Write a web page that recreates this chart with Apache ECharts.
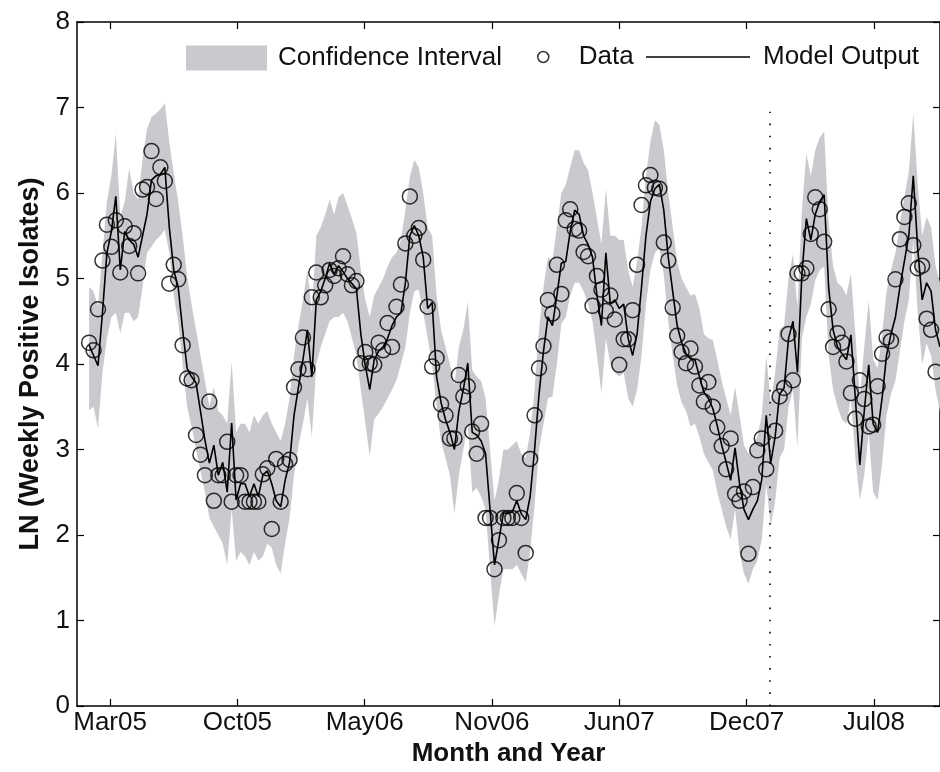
<!DOCTYPE html>
<html>
<head>
<meta charset="utf-8">
<script src="https://cdn.jsdelivr.net/npm/echarts@6.0.0/dist/echarts.min.js"></script>
<style>
  html, body { margin: 0; background: #fff; }
  #chart { width: 940px; height: 772px; }
</style>
</head>
<body>
<div id="chart"></div>
<script>
// Weekly Salmonella isolates: observed data, model output and its confidence band.
// x is measured in days from the Mar05 tick; samples are one week apart.
const tickDays = [0, 200, 400, 600, 800, 1000, 1200];
const tickLabels = ["Mar05", "Oct05", "May06", "Nov06", "Jun07", "Dec07", "Jul08"];
const firstDay = -33;      // first weekly sample, days from the Mar05 tick
const forecastDay = 1036;  // dotted divider

const dataValues = [
  4.25, 4.16, 4.64, 5.21, 5.63, 5.37, 5.68, 5.07, 5.61, 5.38,
  5.53, 5.06, 6.04, 6.07, 6.49, 5.93, 6.30, 6.14, 4.94, 5.16,
  4.99, 4.22, 3.83, 3.81, 3.17, 2.94, 2.70, 3.56, 2.40, 2.70,
  2.70, 3.09, 2.39, 2.70, 2.70, 2.39, 2.39, 2.39, 2.39, 2.71,
  2.78, 2.07, 2.89, 2.39, 2.83, 2.88, 3.73, 3.94, 4.31, 3.94,
  4.78, 5.07, 4.78, 4.92, 5.10, 5.03, 5.12, 5.26, 5.05, 4.92,
  4.97, 4.01, 4.14, 4.01, 3.99, 4.25, 4.16, 4.48, 4.20, 4.67,
  4.93, 5.41, 5.96, 5.50, 5.59, 5.22, 4.67, 3.97, 4.07, 3.53,
  3.40, 3.13, 3.13, 3.87, 3.62, 3.74, 3.21, 2.95, 3.30, 2.20,
  2.20, 1.60, 1.94, 2.20, 2.20, 2.20, 2.49, 2.20, 1.79, 2.89,
  3.40, 3.95, 4.21, 4.75, 4.59, 5.16, 4.82, 5.68, 5.81, 5.58,
  5.56, 5.31, 5.26, 4.68, 5.03, 4.87, 4.62, 4.80, 4.52, 3.99,
  4.29, 4.29, 4.63, 5.16, 5.86, 6.09, 6.21, 6.06, 6.05, 5.42,
  5.21, 4.66, 4.33, 4.14, 4.01, 4.18, 3.97, 3.75, 3.56, 3.79,
  3.50, 3.26, 3.04, 2.77, 3.13, 2.48, 2.40, 2.51, 1.78, 2.56,
  2.99, 3.13, 2.77, null, 3.22, 3.62, 3.72, 4.35, 3.81, 5.06,
  5.06, 5.12, 5.52, 5.95, 5.81, 5.43, 4.64, 4.20, 4.36, 4.25,
  4.03, 3.66, 3.36, 3.81, 3.59, 3.27, 3.29, 3.74, 4.12, 4.31,
  4.27, 4.99, 5.46, 5.72, 5.88, 5.39, 5.12, 5.15, 4.53, 4.40,
  3.91
];

const modelValues = [
  4.22, 4.10, 3.98, 4.60, 5.30, 5.55, 5.96, 5.10, 5.55, 5.45,
  5.40, 5.25, 5.50, 5.75, 6.15, 6.20, 6.22, 6.30, 5.60, 5.10,
  4.90, 4.40, 3.95, 3.85, 3.78, 3.45, 3.11, 2.84, 3.05, 2.70,
  2.85, 2.50, 3.31, 2.41, 2.60, 2.60, 2.45, 2.60, 2.45, 2.70,
  2.75, 2.60, 2.40, 2.33, 2.64, 2.85, 3.40, 3.73, 4.05, 4.40,
  3.85, 4.75, 4.85, 5.00, 5.18, 5.05, 5.15, 5.08, 5.00, 4.94,
  4.88, 4.35, 3.98, 3.70, 4.05, 4.15, 4.20, 4.30, 4.45, 4.55,
  4.60, 4.95, 5.50, 5.62, 5.50, 5.25, 4.65, 4.72, 3.85, 3.55,
  3.35, 3.20, 3.00, 3.45, 3.70, 4.01, 3.20, 3.17, 3.10, 2.95,
  2.30, 1.65, 1.95, 2.26, 2.25, 2.27, 2.40, 2.25, 2.18, 2.45,
  3.00, 3.65, 4.15, 4.55, 4.45, 4.80, 5.18, 5.20, 5.55, 5.80,
  5.75, 5.50, 5.40, 5.25, 4.80, 4.45, 5.30, 4.70, 4.75, 4.65,
  4.70, 4.30, 4.10, 4.35, 4.90, 5.50, 5.90, 6.05, 6.10, 5.80,
  5.25, 4.85, 4.45, 4.25, 4.12, 4.06, 4.05, 3.85, 3.67, 3.60,
  3.48, 3.28, 3.05, 2.85, 2.64, 3.02, 2.60, 2.30, 2.18, 2.30,
  2.40, 2.65, 3.40, 2.84, 3.15, 3.65, 3.72, 4.30, 4.50, 3.90,
  5.05, 5.70, 5.45, 5.75, 5.90, 5.98, 4.90, 4.40, 4.20, 4.12,
  4.05, 4.34, 3.60, 2.82, 3.45, 3.99, 3.30, 3.20, 3.60, 4.10,
  4.35, 4.55, 4.90, 5.20, 5.50, 6.20, 5.35, 4.75, 4.95, 4.85,
  4.40, 4.20
];

const ciUpper = [
  4.90, 4.85, 4.67, 5.30, 5.90, 6.20, 6.70, 5.72, 5.90, 6.29,
  6.00, 5.92, 6.40, 6.75, 6.89, 6.93, 6.98, 7.05, 6.60, 6.23,
  5.90, 5.50, 5.02, 4.70, 4.40, 4.10, 3.80, 3.50, 3.73, 3.45,
  3.40, 3.30, 4.03, 3.20, 3.30, 3.30, 3.20, 3.40, 3.30, 3.40,
  3.45, 3.30, 3.20, 3.10, 3.30, 3.60, 4.10, 4.45, 4.75, 5.10,
  4.60, 5.50, 5.60, 5.75, 5.92, 5.75, 5.95, 6.00, 5.85, 5.70,
  5.53, 5.10, 4.75, 4.55, 4.80, 4.90, 5.00, 5.14, 5.25, 5.30,
  5.45, 5.80, 6.19, 6.39, 6.30, 6.00, 5.60, 5.50, 4.80, 4.40,
  4.20, 4.00, 3.75, 4.20, 4.40, 4.73, 3.93, 3.85, 3.80, 3.60,
  3.00, 2.40, 2.65, 3.00, 3.00, 3.05, 3.10, 2.95, 2.90, 3.20,
  3.70, 4.40, 4.90, 5.25, 5.20, 5.60, 6.00, 6.10, 6.30, 6.50,
  6.50, 6.35, 6.27, 6.00, 5.70, 5.40, 6.05, 5.50, 5.50, 5.45,
  5.45, 5.10, 4.90, 5.20, 5.60, 6.20, 6.60, 6.85, 6.80, 6.50,
  6.00, 5.60, 5.20, 5.00, 4.90, 4.80, 4.82, 4.65, 4.35, 4.30,
  4.28, 4.05, 3.80, 3.60, 3.40, 3.73, 3.40, 3.05, 2.95, 3.05,
  3.15, 3.40, 4.10, 3.55, 3.90, 4.40, 4.45, 5.00, 5.29, 4.65,
  5.80, 6.46, 6.20, 6.50, 6.65, 6.72, 5.65, 5.15, 4.95, 4.90,
  4.80, 5.06, 4.35, 3.60, 4.20, 4.75, 4.05, 3.95, 4.35, 4.85,
  5.10, 5.30, 5.65, 5.95, 6.25, 6.93, 6.10, 5.50, 5.72, 5.60,
  5.15, 4.95
];

const ciLower = [
  3.46, 3.50, 3.25, 3.90, 4.30, 4.55, 4.60, 4.36, 4.60, 4.60,
  4.50, 4.55, 4.90, 5.30, 5.37, 5.45, 5.50, 5.57, 5.30, 4.80,
  4.50, 4.00, 3.50, 3.27, 3.00, 2.75, 2.50, 2.20, 2.10, 2.00,
  1.90, 1.65, 2.30, 1.70, 1.80, 1.75, 1.65, 1.80, 1.70, 1.75,
  1.90, 1.85, 1.65, 1.55, 1.90, 2.20, 2.70, 3.05, 3.30, 3.60,
  3.15, 4.00, 4.20, 4.35, 4.50, 4.55, 4.55, 4.60, 4.50, 4.30,
  4.10, 3.70, 3.31, 2.92, 3.35, 3.42, 3.50, 3.60, 3.70, 3.81,
  4.00, 4.20, 4.60, 4.85, 4.87, 4.60, 4.30, 4.00, 3.50, 3.10,
  2.90, 2.70, 2.25, 2.70, 3.00, 3.30, 2.50, 2.55, 2.45, 2.30,
  1.60, 0.93, 1.30, 1.60, 1.60, 1.60, 1.65, 1.55, 1.45, 1.80,
  2.35, 3.00, 3.30, 3.60, 3.62, 4.00, 4.47, 4.55, 4.80, 4.95,
  4.95, 4.85, 4.70, 4.50, 4.10, 3.66, 4.30, 4.00, 3.90, 3.85,
  3.90, 3.60, 3.50, 3.70, 4.10, 4.70, 5.10, 5.30, 5.35, 5.05,
  4.50, 4.10, 3.75, 3.55, 3.45, 3.27, 3.30, 3.15, 2.95, 2.85,
  2.76, 2.50, 2.30, 2.10, 1.95, 2.30, 1.80, 1.55, 1.43, 1.60,
  1.70, 1.95, 2.60, 2.10, 2.40, 2.90, 3.00, 3.50, 3.70, 3.03,
  4.30, 4.55, 4.70, 4.98, 5.10, 5.14, 4.10, 3.70, 3.50, 3.35,
  3.30, 3.60, 2.90, 2.41, 2.70, 3.20, 2.50, 2.41, 2.84, 3.40,
  3.65, 3.81, 4.15, 4.50, 4.75, 5.45, 4.60, 4.00, 4.24, 4.10,
  3.70, 3.45
];

const BAND = "#c9c9ce";
const FONT = "'Liberation Sans', Arial, sans-serif";
const INK = "#111";

function weekly(values) {
  return values.map((v, i) => [firstDay + 7 * i, v]);
}

const chart = echarts.init(document.getElementById("chart"), null, { renderer: "canvas" });

const txt = { fontFamily: FONT, fontSize: 26, color: INK };
const frameLine = { onZero: false, lineStyle: { color: "#000", width: 1.5 } };
const innerTick = { inside: true, length: 7, lineStyle: { color: "#000", width: 1.2 } };

const xBase = { type: "value", min: -52, max: 1304, splitLine: { show: false }, axisLine: frameLine };
const yBase = { type: "value", min: 0, max: 8, interval: 1, splitLine: { show: false }, axisLine: frameLine };

// band polygon: upper edge left->right, lower edge back right->left
function renderBand(params, api) {
  if (params.dataIndex !== 0) return null;
  const top = ciUpper.map((u, i) => api.coord([firstDay + 7 * i, u]));
  const bottom = ciLower.map((l, i) => api.coord([firstDay + 7 * i, l])).reverse();
  return { type: "polygon", shape: { points: top.concat(bottom) }, style: { fill: BAND } };
}

chart.setOption({
  animation: false,
  backgroundColor: "#fff",
  textStyle: { fontFamily: FONT },
  grid: { left: 77, top: 22, width: 864, height: 684 },
  legend: [
    {
      data: [{ name: "Confidence Interval", icon: "rect", itemStyle: { color: BAND } }],
      left: 186, top: 45, padding: 0, itemWidth: 81, itemHeight: 25, selectedMode: false,
      textStyle: Object.assign({ padding: [2, 0, 0, 6] }, txt),
    },
    {
      data: [{ name: "Data", icon: "circle",
               itemStyle: { color: "rgba(0,0,0,0)", borderColor: "#000", borderWidth: 1.5 } }],
      left: 537, top: 44, padding: 0, itemWidth: 11, itemHeight: 11, selectedMode: false,
      textStyle: Object.assign({ padding: [0, 0, 0, 25] }, txt),
    },
    {
      data: [{ name: "Model Output", icon: "rect", itemStyle: { color: "#000" } }],
      left: 646, top: 44, padding: 0, itemWidth: 104, itemHeight: 1.6, selectedMode: false,
      textStyle: Object.assign({ padding: [0, 0, 0, 8] }, txt),
    },
  ],
  xAxis: [
    Object.assign({}, xBase, {
      position: "bottom",
      axisTick: Object.assign({ customValues: tickDays }, innerTick),
      axisLabel: Object.assign({
        customValues: tickDays, margin: 4,
        formatter: (v) => tickLabels[tickDays.indexOf(v)] || "",
      }, txt),
      name: "Month and Year", nameLocation: "middle", nameGap: 33,
      nameTextStyle: { fontFamily: FONT, fontSize: 26, fontWeight: "bold", color: INK },
    }),
    Object.assign({}, xBase, {
      position: "top",
      axisTick: Object.assign({ customValues: tickDays }, innerTick),
      axisLabel: { show: false },
    }),
  ],
  yAxis: [
    Object.assign({}, yBase, {
      position: "left",
      axisTick: innerTick,
      axisLabel: Object.assign({ margin: 7 }, txt),
      name: "LN (Weekly Positive Isolates)", nameLocation: "middle", nameGap: 33,
      nameTextStyle: { fontFamily: FONT, fontSize: 27, fontWeight: "bold", color: INK },
    }),
    Object.assign({}, yBase, {
      position: "right",
      axisTick: innerTick,
      axisLabel: { show: false },
    }),
  ],
  series: [
    {
      name: "Confidence Interval", type: "custom", silent: true,
      data: weekly(ciLower), encode: { x: 0, y: 1 },
      renderItem: renderBand, itemStyle: { color: BAND }, z: 1,
    },
    {
      name: "Model Output", type: "line", data: weekly(modelValues),
      symbol: "none", lineStyle: { color: "#000", width: 1.6 }, itemStyle: { color: "#000" },
      z: 3,
      markLine: {
        silent: true, symbol: "none", label: { show: false },
        lineStyle: { color: "#000", width: 1.6, type: [1.6, 10.5] },
        data: [[{ coord: [forecastDay, 0] }, { coord: [forecastDay, 6.95] }]],
      },
    },
    {
      name: "Data", type: "scatter", data: weekly(dataValues),
      symbol: "circle", symbolSize: 15, z: 4,
      itemStyle: { color: "rgba(0,0,0,0)", borderColor: "#000", borderWidth: 1.5 },
    },
  ],
});
</script>
</body>
</html>
